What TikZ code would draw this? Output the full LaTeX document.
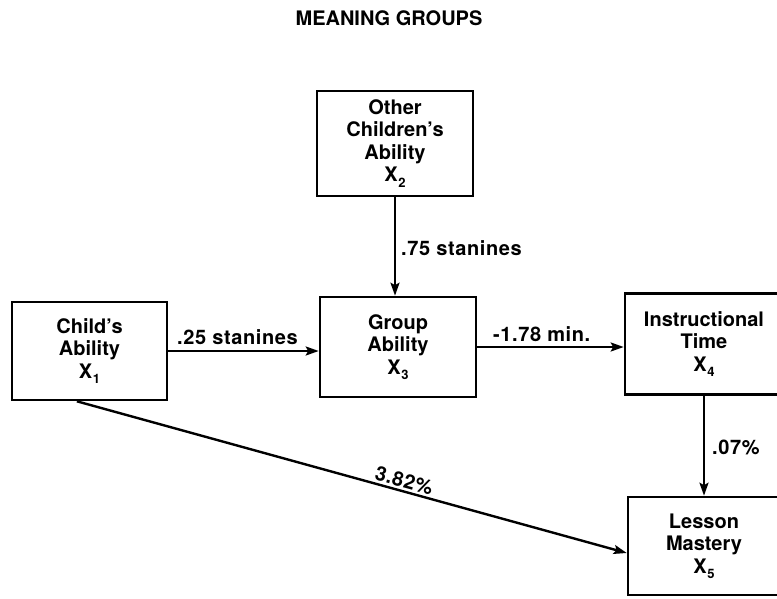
\documentclass[tikz,border=0pt]{standalone}
\usepackage{fontspec}
\setmainfont{TeX Gyre Heros}
\usetikzlibrary{arrows.meta,calc}
\newcommand{\subidx}[1]{\kern0.5pt\raisebox{-0.5ex}{\fontsize{13}{13}\selectfont #1}}
\begin{document}
\begin{tikzpicture}[x=1pt,y=-1pt,
  box/.style={draw, line width=2.6pt, align=center, inner sep=0pt,
    font=\fontsize{20}{22.5}\selectfont\bfseries},
  link/.style={line width=2.4pt, -{Stealth[length=13pt,width=9pt,inset=2.5pt]}},
  lab/.style={font=\fontsize{20}{20}\selectfont\bfseries\addfontfeatures{LetterSpace=3}, inner sep=1pt}]
\useasboundingbox (0,0) rectangle (777,599);
\fill[white] (0,0) rectangle (777,599);
\begin{scope}
\clip (0,0) rectangle (777,599);
\node[font=\fontsize{20}{20}\selectfont\bfseries] (title) at (389,18.5) {MEANING GROUPS};
\node[box, minimum width=156pt, minimum height=105pt] (x2) at (395,143.5)
  {Other\\Children's\\Ability\\X\subidx{2}};
\node[box, minimum width=155pt, minimum height=98pt] (x1) at (89.5,351)
  {Child's\\Ability\\X\subidx{1}};
\node[box, minimum width=156pt, minimum height=100pt] (x3) at (398,347)
  {Group\\Ability\\X\subidx{3}};
\node[box, minimum width=158pt, minimum height=101pt] (x4) at (704,344)
  {Instructional\\Time\\X\subidx{4}};
\node[box, minimum width=152pt, minimum height=98pt] (x5) at (704,546)
  {Lesson\\Mastery\\X\subidx{5}};
\coordinate (d1) at ($(x1.south west)!0.42!(x1.south east)$);
\coordinate (d2) at ($(x5.west)+(0,7)$);
\draw[link] (x2.south) -- node[lab, right=4pt, pos=0.52] {.75 stanines} (x2.south |- x3.north);
\draw[link] (x1.east) -- node[lab, above=4pt, pos=0.46] {.25 stanines} (x1.east -| x3.west);
\draw[link] (x3.east) -- node[lab, above=3pt, pos=0.44] {-1.78 min.} (x3.east -| x4.west);
\draw[link] (x4.south) -- node[lab, right=6pt, pos=0.515] {.07\%} (x5.north);
\draw[link] (d1) -- node[lab, sloped, above=1pt, pos=0.59] {3.82\%} (d2);
\end{scope}
\end{tikzpicture}
\end{document}
